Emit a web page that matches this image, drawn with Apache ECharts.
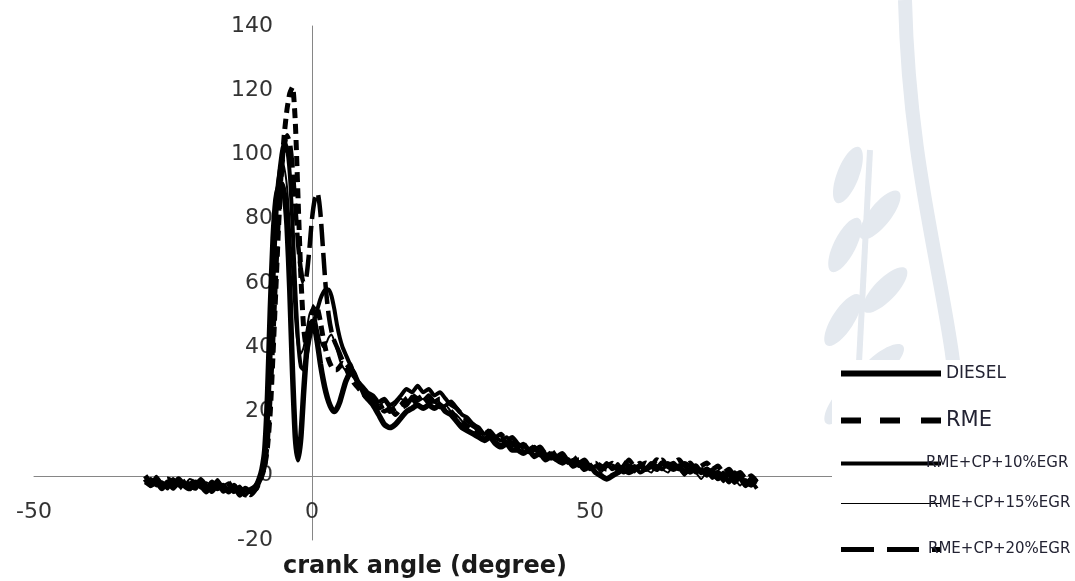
<!DOCTYPE html>
<html>
<head>
<meta charset="utf-8">
<script src="https://cdn.jsdelivr.net/npm/echarts@6/dist/echarts.min.js"></script>
<style>
html,body{margin:0;padding:0;background:#fff;}
#chart{width:1075px;height:581px;}
</style>
</head>
<body>
<div id="chart"></div>
<script>
// crank angle (degree)
const angle = [
  -30,-29,-28,-27,-26,-25,-24,-23,-22,-21,-20,-19,-18,-17,-16,-15,-14,-13,-12,-11,-10,
  -9.5,-9,-8.5,-8,-7.5,-7,-6.5,-6,-5.5,-5,
  -4.5,-4,-3.5,-3,-2.5,-2,-1.5,-1,-0.5,0,
  0.5,1,1.5,2,2.5,3,3.5,4,4.5,5,
  5.5,6,6.5,7,7.5,8,8.5,9,9.5,10,
  11,12,13,14,15,16,17,18,19,20,
  21,22,23,24,25,26,27,28,29,30,
  31,32,33,34,35,36,37,38,39,40,
  41,42,43,44,45,46,47,48,49,50,
  51,52,53,54,55,56,57,58,59,60,
  61,62,63,64,65,66,67,68,69,70,
  71,72,73,74,75,76,77,78,79,80
];
const diesel = [
  -1,-3,-2,-4,-2,-3,-1,-3,-4,-2,-3,-5,-2,-4,-3,-5,-3,-6,-4,-5,-3,
  -1,2,8,25,52,74,86,90,91,88,
  78,58,32,12,5,12,26,38,45,48,
  46,41,35,30,26,23,21,20,21,23,
  26,29,31,33,32,30,28,27,25,24,
  22,19,16,15,16,18,20,21,22,21,
  22,21,22,20,19,17,15,14,13,12,
  11,12,10,9,10,8,8,7,8,6,
  7,5,6,5,4,5,3,4,2,3,
  1,0,-1,0,1,2,1,2,3,2,
  3,2,4,3,2,3,1,2,3,1,
  2,0,1,-1,1,-2,0,-3,-1,-2
];
const rme = [
  0,-2,-1,-3,-1,-2,-4,-2,-1,-3,-2,-4,-3,-2,-4,-3,-5,-4,-6,-5,-4,
  -2,0,3,9,20,38,58,78,94,106,
  114,119,121,110,86,62,46,40,44,50,
  53,52,48,43,39,36,34,33,33,34,
  35,34,32,31,29,28,27,26,25,24,
  23,21,22,20,21,22,24,25,24,25,
  23,24,22,21,20,18,17,15,14,13,
  14,12,11,12,10,11,9,10,8,9,
  7,8,6,7,5,6,4,5,4,3,
  4,3,2,3,2,4,3,2,3,4,
  3,5,4,3,4,5,3,4,2,3,
  4,2,3,1,2,0,1,-1,0,-2
];
const egr10 = [
  -2,-1,-3,-2,-4,-1,-3,-2,-4,-3,-1,-3,-4,-2,-5,-4,-3,-5,-6,-4,-3,
  -1,1,5,15,35,58,78,92,100,104,
  102,94,78,58,42,34,33,37,42,46,
  49,52,55,57,58,58,56,52,47,43,
  40,38,36,34,32,30,29,28,27,26,
  25,23,24,22,23,25,27,26,28,26,
  27,25,26,24,22,21,19,18,16,15,
  13,14,12,11,12,10,9,10,8,9,
  7,6,7,5,6,4,5,3,4,2,
  3,2,4,2,3,1,2,3,1,2,
  4,3,2,4,3,2,4,3,1,2,
  0,2,-1,1,-2,0,-1,-3,-2,-4
];
const egr15 = [
  -1,-2,0,-2,-3,-1,-2,-3,-1,-2,-4,-2,-3,-1,-3,-2,-4,-3,-5,-4,-2,
  0,3,10,30,55,75,88,95,98,96,
  90,78,62,48,40,38,40,45,50,52,
  50,46,42,40,41,43,44,42,39,36,
  34,33,34,35,33,31,29,28,26,25,
  24,22,23,21,22,24,23,25,23,24,
  22,23,21,22,20,19,17,16,15,14,
  12,13,11,10,11,9,10,8,7,8,
  6,7,5,6,4,5,3,4,3,2,
  3,1,3,2,4,2,3,1,3,2,
  1,3,2,1,3,2,0,2,1,-1,
  1,-1,0,-2,0,-1,-3,-1,-3,-2
];
const egr20 = [
  -2,-3,-1,-3,-2,-4,-2,-1,-3,-4,-2,-3,-5,-3,-4,-2,-5,-4,-5,-6,-4,
  -2,0,3,10,24,42,62,80,94,102,
  106,104,96,84,72,64,60,62,70,80,
  86,88,82,70,58,50,45,42,40,38,
  36,35,34,33,31,30,28,27,26,25,
  24,22,20,21,19,21,22,24,22,23,
  25,23,24,22,23,21,19,17,16,14,
  15,13,12,13,11,12,10,9,10,8,
  9,7,8,6,7,5,6,4,5,3,
  4,2,3,4,2,3,5,3,4,2,
  3,4,5,3,4,2,3,1,2,0,
  2,1,-1,0,-2,1,-1,-2,-3,-1
];
const seriesNames = ['DIESEL','RME','RME+CP+10%EGR','RME+CP+15%EGR','RME+CP+20%EGR'];
const xTitle = 'crank angle (degree)';

const pairs = vals => angle.map((a, i) => [a, vals[i]]);
const FONT = 'DejaVu Sans';
const WM = '#e4e9ef';

const chart = echarts.init(document.getElementById('chart'), null, {renderer: 'canvas'});
const lineSeries = (name, vals, width, type) => ({
  name: name,
  type: 'line',
  data: pairs(vals),
  symbol: 'none',
  showSymbol: false,
  smooth: 0.2,
  lineStyle: {color: '#000', width: width, type: type},
  itemStyle: {color: '#000'},
  emphasis: {disabled: true},
  z: 3
});

const legendBase = (name, top, icon, h, fs, pad) => ({
  data: [name],
  left: 841,
  top: top,
  orient: 'vertical',
  icon: icon,
  itemWidth: 100,
  itemHeight: h,
  padding: 0,
  z: 20,
  itemStyle: {borderWidth: 0, color: '#000'},
  textStyle: {fontFamily: FONT, fontSize: fs, color: '#232333', padding: pad}
});

const leaf = (x, y, rot) => ({
  type: 'ellipse', x: x, y: y, rotation: rot,
  shape: {cx: 0, cy: 0, rx: 30, ry: 11},
  style: {fill: WM}, z: -5, silent: true
});

chart.setOption({
  animation: false,
  backgroundColor: '#fff',
  grid: {left: 34, right: 207, top: 26, bottom: 41, containLabel: false, outerBoundsMode: 'none'},
  xAxis: {
    type: 'value', min: -50, max: 100, interval: 50,
    axisLine: {onZero: true, lineStyle: {color: '#868686', width: 1}},
    axisTick: {show: false},
    splitLine: {show: false},
    axisLabel: {fontFamily: FONT, fontSize: 22, color: '#333', margin: -39},
    name: xTitle,
    nameLocation: 'middle',
    nameGap: 15,
    nameTextStyle: {fontFamily: FONT, fontSize: 24, fontWeight: 'bold', color: '#1a1a1a', padding: [0, 52, 0, 0]}
  },
  yAxis: {
    type: 'value', min: -20, max: 140, interval: 20,
    axisLine: {show: true, onZero: true, lineStyle: {color: '#868686', width: 1}},
    axisTick: {show: false},
    splitLine: {show: false},
    axisLabel: {fontFamily: FONT, fontSize: 22, color: '#333', margin: -239}
  },
  graphic: [
    {type: 'bezierCurve', shape: {x1: 905, y1: 0, x2: 960, y2: 440, cpx1: 910, cpy1: 200, cpx2: 955, cpy2: 300},
     style: {stroke: WM, lineWidth: 14, fill: null}, z: -5, silent: true},
    {type: 'line', shape: {x1: 870, y1: 150, x2: 855, y2: 440}, style: {stroke: WM, lineWidth: 6}, z: -5, silent: true},
    leaf(848, 175, 1.2), leaf(880, 215, 0.9), leaf(845, 245, 1.1), leaf(885, 290, 0.8),
    leaf(843, 320, 1.0), leaf(880, 365, 0.7), leaf(845, 400, 0.9),
    {type: 'rect', left: 832, top: 360, shape: {width: 243, height: 221}, style: {fill: '#fff'}, z: 10}
  ],
  legend: [
    legendBase(seriesNames[0], 365, 'rect', 6, 17, 0),
    legendBase(seriesNames[1], 410, 'path://M0,0H20V6H0Z M39,0H59V6H39Z M80,0H100V6H80Z', 6, 21, 0),
    legendBase(seriesNames[2], 456, 'rect', 4, 15, [0, 0, 16, -20]),
    legendBase(seriesNames[3], 496, 'rect', 1, 15, [0, 0, 30, -18]),
    legendBase(seriesNames[4], 542, 'path://M0,0H33V5H0Z M46,0H78V5H46Z M91,0H100V5H91Z', 5, 15, [0, 0, 36, -18])
  ],
  series: [
    lineSeries(seriesNames[0], diesel, 5.5, 'solid'),
    lineSeries(seriesNames[1], rme, 5, [10, 6]),
    lineSeries(seriesNames[2], egr10, 4, 'solid'),
    lineSeries(seriesNames[3], egr15, 2, 'solid'),
    lineSeries(seriesNames[4], egr20, 4.5, [22, 7])
  ]
});
</script>
</body>
</html>
